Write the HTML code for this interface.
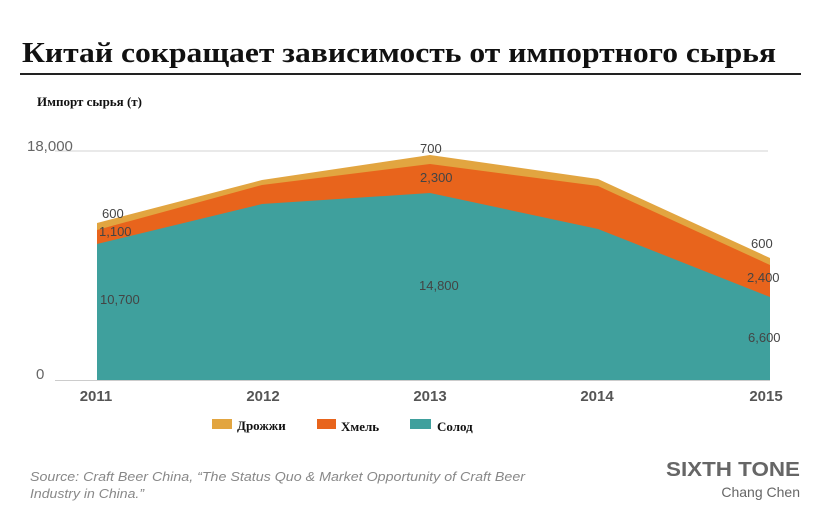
<!DOCTYPE html>
<html><head><meta charset="utf-8"><style>
body{margin:0;background:#fff;width:830px;height:524px;overflow:hidden}
svg{display:block}
</style></head><body>
<svg width="830" height="524" xmlns="http://www.w3.org/2000/svg">
<text x="22" y="62" font-family="Liberation Serif, serif" font-weight="bold" font-size="28" fill="#111" textLength="754" lengthAdjust="spacingAndGlyphs">Китай сокращает зависимость от импортного сырья</text>
<line x1="20" y1="74" x2="801" y2="74" stroke="#222" stroke-width="2"/>
<text x="37" y="106" font-family="Liberation Serif, serif" font-weight="bold" font-size="13" fill="#111">Импорт сырья (т)</text>
<line x1="55" y1="151" x2="768" y2="151" stroke="#e2e2e2" stroke-width="1.5"/>
<text x="27" y="151" font-family="Liberation Sans, sans-serif" font-size="15" fill="#666">18,000</text>
<text x="36" y="379" font-family="Liberation Sans, sans-serif" font-size="15" fill="#666">0</text>
<polygon fill="#e2a540" points="97,380 97,223 262,180 430,155 598,179 770,258 770,380"/>
<polygon fill="#e8641c" points="97,380 97,230 262,185 430,164 598,186 770,265 770,380"/>
<polygon fill="#3fa09d" points="97,380 97,244 262,204 430,193 598,229 770,297 770,380"/>
<line x1="55" y1="380.5" x2="770" y2="380.5" stroke="#ccc" stroke-width="1"/>
<g font-family="Liberation Sans, sans-serif" font-size="13" fill="#444">
<text x="102" y="218">600</text>
<text x="99" y="236">1,100</text>
<text x="100" y="304">10,700</text>
<text x="420" y="153">700</text>
<text x="420" y="182">2,300</text>
<text x="419" y="290">14,800</text>
<text x="751" y="248">600</text>
<text x="747" y="282">2,400</text>
<text x="748" y="342">6,600</text>
</g>
<g font-family="Liberation Sans, sans-serif" font-weight="bold" font-size="15" fill="#555" text-anchor="middle">
<text x="96" y="401">2011</text>
<text x="263" y="401">2012</text>
<text x="430" y="401">2013</text>
<text x="597" y="401">2014</text>
<text x="766" y="401">2015</text>
</g>
<rect x="212" y="419" width="20" height="10" fill="#e2a540"/>
<rect x="317" y="419" width="19" height="10" fill="#e8641c"/>
<rect x="410" y="419" width="21" height="10" fill="#3fa09d"/>
<g font-family="Liberation Serif, serif" font-weight="bold" font-size="13" fill="#111">
<text x="237" y="430">Дрожжи</text>
<text x="341" y="431">Хмель</text>
<text x="437" y="431">Солод</text>
</g>
<g font-family="Liberation Sans, sans-serif" font-style="italic" font-size="13" fill="#888">
<text x="30" y="481" textLength="495" lengthAdjust="spacingAndGlyphs">Source: Craft Beer China, “The Status Quo &amp; Market Opportunity of  Craft Beer</text>
<text x="30" y="498" textLength="114" lengthAdjust="spacingAndGlyphs">Industry in China.”</text>
</g>
<text x="800" y="476" text-anchor="end" font-family="Liberation Sans, sans-serif" font-weight="bold" font-size="20" fill="#666" textLength="134" lengthAdjust="spacingAndGlyphs">SIXTH TONE</text>
<text x="800" y="497" text-anchor="end" font-family="Liberation Sans, sans-serif" font-size="14" fill="#666">Chang Chen</text>
</svg>
</body></html>
